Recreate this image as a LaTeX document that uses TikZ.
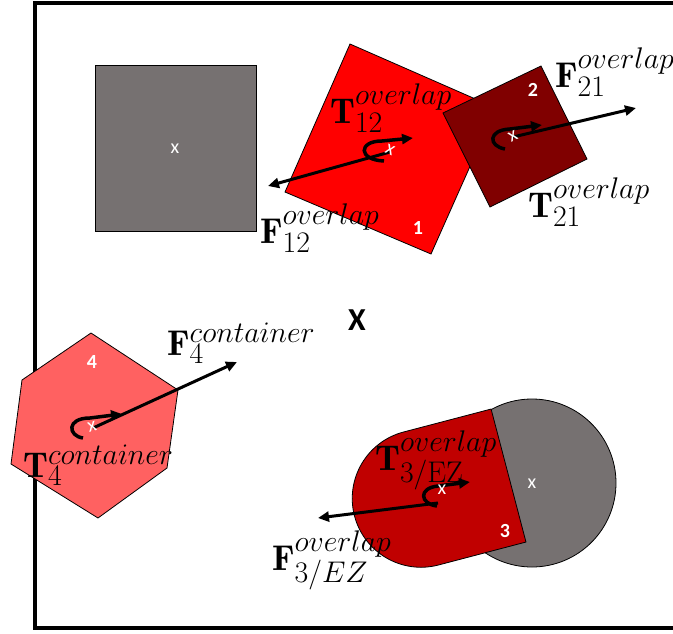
\documentclass[tikz,border=0pt]{standalone}
\usepackage{graphicx}
\usepackage{fontspec}
\usetikzlibrary{arrows.meta}
\newfontfamily\calfont{Carlito}
\DeclareMathSizes{24.88}{24.88}{20.74}{14.4}
\newcommand{\biglab}[1]{\scalebox{1.44}{\fontsize{24.88}{28}\selectfont$#1$}}
\definecolor{sgray}{HTML}{767171}
\definecolor{sred}{HTML}{FF0000}
\definecolor{dred}{HTML}{800000}
\definecolor{mred}{HTML}{C00000}
\definecolor{lred}{HTML}{FF6161}
\tikzset{
  shapebox/.style={draw=black, line width=0.8pt},
  force/.style={line width=3pt, -{Triangle[length=11pt,width=10pt]}},
  torque/.style={line width=3.5pt, -{Triangle[length=11pt,width=10pt]}},
  lab/.style={anchor=base west, inner sep=0pt},
  num/.style={text=white, inner sep=0pt, font=\calfont\bfseries\fontsize{20}{22}\selectfont},
  xmark/.style={text=white, inner sep=0pt, font=\calfont\fontsize{20}{22}\selectfont},
}
\begin{document}
\begin{tikzpicture}[x=1pt,y=-1pt]
\clip (0,0) rectangle (673,633);
\fill[white] (0,0) rectangle (673,633);
% frame
\draw[line width=4pt] (680,3) -- (35,3) -- (35,628) -- (680,628);
% gray square
\draw[shapebox, fill=sgray] (95,65) rectangle (256,231);
\node[xmark] (xg) at (175,149) {x};
% red square 1
\draw[shapebox, fill=sred] (350,44) -- (496,108) -- (431,254) -- (285,192) -- cycle;
% dark square 2
\draw[shapebox, fill=dred] (541,66) -- (587,159) -- (490,207) -- (443,113) -- cycle;
% gray circle
\draw[shapebox, fill=sgray] (532,483) circle[radius=84pt];
\node[xmark] (xc) at (532,484) {x};
% stadium 3
\begin{scope}[shift={(421,498.5)}, rotate=14.7]
\draw[shapebox, fill=mred] (90.5pt,68.75pt) -- (0pt,68.75pt)
  arc[start angle=90, end angle=270, radius=68.75pt] -- (90.5pt,-68.75pt) -- cycle;
\end{scope}
% hexagon 4
\draw[shapebox, fill=lred] (91,333) -- (178,390) -- (167,468) -- (98,518) -- (11,464) -- (22,380) -- cycle;
% numbers
\node[num] (n1) at (418,228) {1};
\node[num] (n2) at (533,90) {2};
\node[num] (n3) at (505,531) {3};
\node[num] (n4) at (92,362) {4};
% centre X
\node[inner sep=0pt, font=\calfont\bfseries\fontsize{32}{34}\selectfont] (cx) at (357,320) {X};
% coordinates
\coordinate (c1) at (390,152);
\coordinate (f12) at (268,186);
\coordinate (t12s) at (384,161);
\coordinate (t12m) at (382,141);
\coordinate (t12e) at (413,138);
\coordinate (c2) at (513,137);
\coordinate (f21) at (636,108);
\coordinate (t21s) at (505,149);
\coordinate (t21m) at (510,129);
\coordinate (t21e) at (542,125);
\coordinate (c4) at (93,428);
\coordinate (f4) at (237,362);
\coordinate (t4s) at (83,438);
\coordinate (t4m) at (90,418);
\coordinate (t4e) at (122,414);
\coordinate (c3) at (438,503);
\coordinate (f3) at (318,518);
\coordinate (t3s) at (437,506);
\coordinate (t3m) at (438,486);
\coordinate (t3e) at (470,482);
% forces
\draw[force] (c1) -- (f12);
\draw[force] (c2) -- (f21);
\draw[force] (c4) -- (f4);
\draw[force] (c3) -- (f3);
% torques
\draw[torque] (t12s) .. controls (358,160) and (358,141) .. (t12m) -- (t12e);
\draw[torque] (t21s) .. controls (488,146) and (488,130) .. (t21m) -- (t21e);
\draw[torque] (t4s) .. controls (68,436) and (66,418) .. (t4m) -- (t4e);
\draw[torque] (t3s) .. controls (420,504) and (418,488) .. (t3m) -- (t3e);
% x marks (on top of the arrows)
\node[xmark, rotate=-24] (x1) at (390,150) {x};
\node[xmark, rotate=26] (x2) at (513,136) {x};
\node[xmark] (x3) at (442,490) {x};
\node[xmark, rotate=15] (x4) at (92,427) {x};
% labels
\node[lab] (lt12) at (330,123) {\biglab{\mathbf{T}^{overlap}_{12}}};
\node[lab] (lf12) at (260,243) {\biglab{\mathbf{F}^{overlap}_{12}}};
\node[lab] (lf21) at (555,87) {\biglab{\mathbf{F}^{overlap}_{21}}};
\node[lab] (lt21) at (528,217) {\biglab{\mathbf{T}^{overlap}_{21}}};
\node[lab] (lf4) at (167,355) {\biglab{\mathbf{F}^{container}_{4}}};
\node[lab] (lt4) at (23,477) {\biglab{\mathbf{T}^{container}_{4}}};
\node[lab] (lt3) at (375,470) {\biglab{\mathbf{T}^{overlap}_{3/\mathrm{EZ}}}};
\node[lab] (lf3) at (272,570) {\biglab{\mathbf{F}^{overlap}_{3/EZ}}};
\end{tikzpicture}
\end{document}
